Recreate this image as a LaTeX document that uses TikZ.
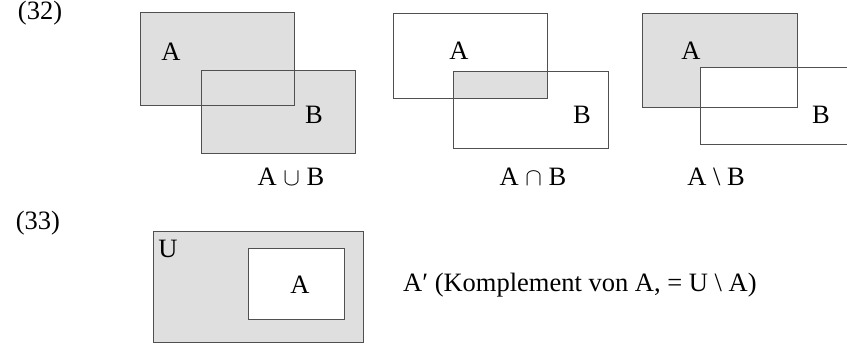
\documentclass[tikz,border=0pt]{standalone}
\usepackage{fontspec}
\setmainfont{Liberation Serif}
\definecolor{setfill}{HTML}{DFDFDF}
\definecolor{setline}{HTML}{505050}
\tikzset{
  setrect/.style={draw=setline, line width=1pt},
  lbl/.style={inner sep=0pt, font=\fontsize{26.5}{31}\selectfont},
}
\begin{document}
\begin{tikzpicture}[x=1pt,y=-1pt]
\useasboundingbox (0,0) rectangle (847,344);
% numbers
\node[lbl, anchor=base] (n32) at (40,20) {(32)};
\node[lbl, anchor=base] (n33) at (38,230) {(33)};
% union
\fill[setfill] (140,13) rectangle (294,106);
\fill[setfill] (201,71) rectangle (355,154);
\draw[setrect] (140,13) rectangle (294,106);
\draw[setrect] (201,71) rectangle (355,154);
\node[lbl] (ua) at (171,52) {A};
\node[lbl] (ub) at (314,115) {B};
\node[lbl, anchor=base] (ul) at (291,186) {A $\cup$ B};
% intersection
\fill[setfill] (453,72) rectangle (547,99);
\draw[setrect] (393,14) rectangle (547,99);
\draw[setrect] (453,72) rectangle (608,149);
\node[lbl] (ia) at (459,51) {A};
\node[lbl] (ib) at (582,115) {B};
\node[lbl, anchor=base] (il) at (533,186) {A $\cap$ B};
% difference
\fill[setfill] (642,14) rectangle (797,108);
\fill[white] (700,68) rectangle (852,145);
\draw[setrect] (642,14) rectangle (797,108);
\draw[setrect] (700,68) rectangle (852,145);
\node[lbl] (da) at (691,51) {A};
\node[lbl] (db) at (821,115) {B};
\node[lbl, anchor=base] (dl) at (716,186) {A \textbackslash{} B};
% complement
\fill[setfill] (153,232) rectangle (363,343);
\fill[white] (248,249) rectangle (344,320);
\draw[setrect] (153,232) rectangle (363,343);
\draw[setrect] (248,249) rectangle (344,320);
\node[lbl] (cu) at (168,249) {U};
\node[lbl] (ca) at (300,285) {A};
\node[lbl, anchor=base west] (ct) at (403,292) {A′ (Komplement von A, = U \textbackslash{} A)};
\end{tikzpicture}
\end{document}
